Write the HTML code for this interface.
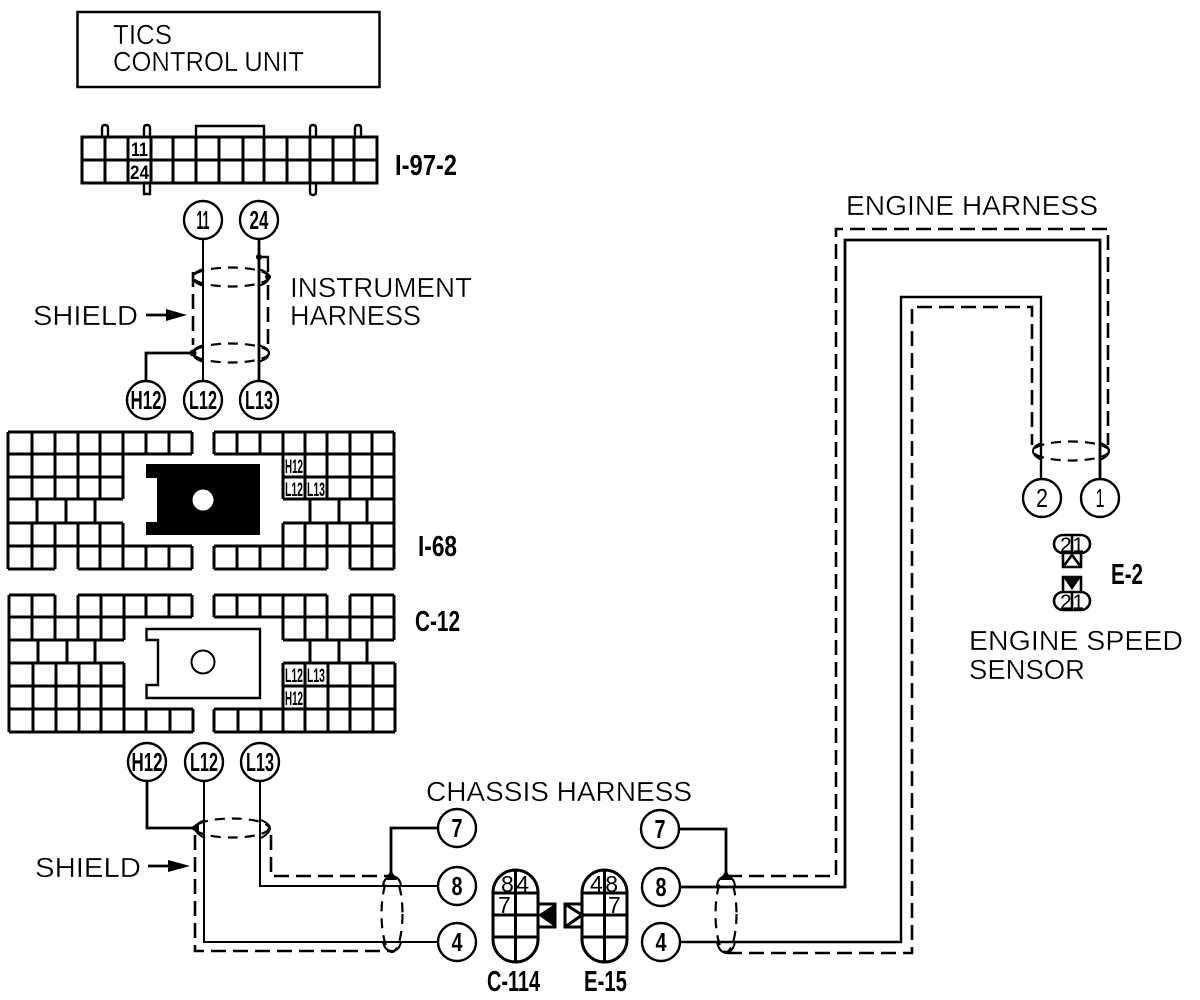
<!DOCTYPE html>
<html><head><meta charset="utf-8"><style>
html,body{margin:0;padding:0;background:#fff}
svg{display:block}
text{font-family:"Liberation Sans",sans-serif;fill:#000}
.t{font-size:28px;stroke:#fff;stroke-width:.35px}
.b{font-size:29px;font-weight:bold}
.n{font-size:26px;font-weight:bold;text-anchor:middle}
.c{font-size:19px;font-weight:bold}
.g{fill:none;stroke:#000;stroke-width:3}
.w{fill:none;stroke:#000;stroke-width:2}
.k{fill:none;stroke:#000;stroke-width:2.800}
.d{fill:none;stroke:#000;stroke-width:2.600;stroke-dasharray:15 7}
.e{fill:none;stroke:#000;stroke-width:2.200;stroke-dasharray:10 7}
.o{fill:#fff;stroke:#000;stroke-width:2.400}
</style></head><body>
<svg width="1200" height="1000" viewBox="0 0 1200 1000" xmlns="http://www.w3.org/2000/svg">
<rect width="1200" height="1000" fill="#fff"/>

<!-- Control unit -->
<rect x="77.500" y="12" width="302" height="75" class="g" style="stroke-width:2.500"/>
<text class="t" x="113" y="44" textLength="59" lengthAdjust="spacingAndGlyphs">TICS</text>
<text class="t" x="113" y="71" textLength="191" lengthAdjust="spacingAndGlyphs">CONTROL UNIT</text>

<!-- I-97-2 -->
<path class="g" style="stroke-width:2.400" d="M102 137V128Q102 125 105 125Q108 125 108 128V137M144 137V128Q144 125 147 125Q150 125 150 128V137M144 183V194H150V183M196 137V126H264V137M310 137V128Q310 125 313 125Q316 125 316 128V137M310 183V192Q310 195 313 195Q316 195 316 192V183M355 137V128Q355 125 358 125Q361 125 361 128V137"/>
<path class="g" d="M82 137H377V183H82ZM82 160H377M105 137V183M128 137V183M151 137V183M173 137V183M196 137V183M219 137V183M243 137V183M264 137V183M287 137V183M310 137V183M333 137V183M354 137V183"/>
<text class="c" x="131" y="156" textLength="17" lengthAdjust="spacingAndGlyphs">11</text>
<text class="c" x="130" y="179" textLength="19" lengthAdjust="spacingAndGlyphs">24</text>
<text class="b" x="395" y="175" textLength="62" lengthAdjust="spacingAndGlyphs">I-97-2</text>

<!-- Instrument harness wires -->
<path class="w" d="M203 239V381"/>
<path class="k" d="M259 239V381M193 353H146V381"/>
<path class="g" d="M259 257H268V272" style="stroke-width:2.400"/>
<path class="d" d="M193 272V345"/>
<path class="d" d="M268 285V345"/>
<ellipse cx="231" cy="277" rx="38" ry="9.500" class="e"/>
<ellipse cx="231" cy="353" rx="38" ry="9.500" class="e"/>
<path class="w" d="M204 269Q193 272 193 277Q193 283 204 286M258 269Q269 272 269 277Q269 283 258 286M204 345Q193 348 193 353Q193 359 204 362M258 345Q269 348 269 353Q269 359 258 362"/>
<circle cx="259" cy="257" r="3"/><circle cx="268" cy="277" r="3"/><circle cx="193" cy="353" r="3.500"/>
<circle cx="203" cy="220" r="19" class="o"/><circle cx="259" cy="220" r="19" class="o"/>
<circle cx="146" cy="400" r="19" class="o"/><circle cx="203" cy="400" r="19" class="o"/><circle cx="259" cy="400" r="19" class="o"/>
<text class="n" x="203" y="229" textLength="13" lengthAdjust="spacingAndGlyphs">11</text>
<text class="n" x="259" y="229" textLength="19" lengthAdjust="spacingAndGlyphs">24</text>
<text class="n" x="146" y="409" textLength="31" lengthAdjust="spacingAndGlyphs">H12</text>
<text class="n" x="203" y="409" textLength="28" lengthAdjust="spacingAndGlyphs">L12</text>
<text class="n" x="259" y="409" textLength="28" lengthAdjust="spacingAndGlyphs">L13</text>
<text class="t" x="33" y="325" textLength="105" lengthAdjust="spacingAndGlyphs">SHIELD</text>
<path d="M146 315H170" class="k"/><path d="M166 309L187 315L166 321Z"/>
<text class="t" x="290" y="297" textLength="182" lengthAdjust="spacingAndGlyphs">INSTRUMENT</text>
<text class="t" x="290" y="325" textLength="131" lengthAdjust="spacingAndGlyphs">HARNESS</text>

<!-- I-68 -->
<path class="g" d="M8 432H192M8 454H192M8 477H123M8 499H123M8 523H123M8 546H192M8 569H55M78 569H192
M8 432V569M32 432V499M55 432V499M78 432V499M100 432V499M123 432V499M146 432V454M169 432V454M192 432V454
M37 499V523M66 499V523M95 499V523
M32 523V569M55 523V569M78 523V569M100 523V569M123 523V569M146 546V569M169 546V569M192 546V569"/>
<path class="g" d="M214 432H394M214 454H394M283 477H394M283 499H394M283 523H394M214 546H394M214 569H327M350 569H394
M394 432V569M214 432V454M237 432V454M260 432V454M283 432V499M305 432V499M327 432V499M350 432V499M372 432V499
M310 499V523M339 499V523M367 499V523
M283 523V546M305 523V546M327 523V546M350 523V569M372 523V569
M214 546V569M237 546V569M260 546V569M283 546V569M305 546V569M327 546V569"/>
<text class="c" x="285" y="473" textLength="18" lengthAdjust="spacingAndGlyphs">H12</text>
<text class="c" x="285" y="496" textLength="18" lengthAdjust="spacingAndGlyphs">L12</text>
<text class="c" x="307" y="496" textLength="18" lengthAdjust="spacingAndGlyphs">L13</text>
<path d="M146 464H260V535H146V522H157V478H146Z"/>
<circle cx="203" cy="500" r="10.500" fill="#fff"/>
<text class="b" x="418" y="556" textLength="39" lengthAdjust="spacingAndGlyphs">I-68</text>

<!-- C-12 -->
<path class="g" d="M9 595H55M78 595H192M9 617H192M9 640H124M9 663H124M9 686H124M9 709H193M9 732H193
M9 595V732M32 595V640M55 595V640M78 595V640M101 595V640M124 595V640M146 595V617M169 595V617M192 595V617
M38 640V663M67 640V663M95 640V663
M33 663V732M56 663V732M79 663V732M101 663V732M124 663V732M146 709V732M170 709V732M193 709V732"/>
<path class="g" d="M214 595H327M350 595H394M214 617H394M283 640H394M283 663H395M283 686H395M214 709H395M214 732H395
M214 595V617M237 595V617M260 595V617M283 595V640M305 595V640M327 595V640M350 595V640M372 595V640M394 595V640
M310 640V663M339 640V663M367 640V663
M283 663V732M305 663V732M328 663V732M350 663V732M373 663V732M395 663V732
M214 709V732M238 709V732M261 709V732"/>
<text class="c" x="285" y="682" textLength="18" lengthAdjust="spacingAndGlyphs">L12</text>
<text class="c" x="307" y="682" textLength="18" lengthAdjust="spacingAndGlyphs">L13</text>
<text class="c" x="285" y="705" textLength="18" lengthAdjust="spacingAndGlyphs">H12</text>
<path class="g" style="stroke-width:2.400" d="M146.500 629H260V698H146.500V685H158V640H146.500Z"/>
<circle cx="203" cy="662" r="11.500" class="w"/>
<text class="b" x="415" y="631" textLength="45" lengthAdjust="spacingAndGlyphs">C-12</text>

<!-- Chassis harness -->
<path class="k" d="M147 781V828H193M438 828H391V876"/>
<path class="w" d="M204 781V942H437M260 781V886H437"/>
<path class="d" d="M195 835V951H391M271 835V876H391"/>
<ellipse cx="232" cy="828" rx="37" ry="9.500" class="e"/>
<ellipse cx="392" cy="914" rx="10.500" ry="38" class="e"/>
<path class="w" d="M205 820Q195 824 195 828Q195 833 205 838M261 820Q270 824 270 828Q270 833 261 838M383 886Q384 877 392 876Q400 877 401 886M383 942Q385 951 392 951Q399 951 401 942"/>
<path d="M190 828L199 822V834Z"/><path d="M385 880L391 870L397 880Z"/>
<circle cx="147" cy="762" r="19" class="o"/><circle cx="204" cy="762" r="19" class="o"/><circle cx="260" cy="762" r="19" class="o"/>
<text class="n" x="147" y="771" textLength="31" lengthAdjust="spacingAndGlyphs">H12</text>
<text class="n" x="204" y="771" textLength="28" lengthAdjust="spacingAndGlyphs">L12</text>
<text class="n" x="260" y="771" textLength="28" lengthAdjust="spacingAndGlyphs">L13</text>
<circle cx="457" cy="828" r="19" class="o"/><circle cx="457" cy="886" r="19" class="o"/><circle cx="457" cy="942" r="19" class="o"/>
<text class="n" x="457" y="837" textLength="11" lengthAdjust="spacingAndGlyphs">7</text><text class="n" x="457" y="895" textLength="11" lengthAdjust="spacingAndGlyphs">8</text><text class="n" x="457" y="951" textLength="11" lengthAdjust="spacingAndGlyphs">4</text>
<text class="t" x="35" y="877" textLength="106" lengthAdjust="spacingAndGlyphs">SHIELD</text>
<path d="M148 866H172" class="k"/><path d="M168 860L190 866L168 872Z"/>
<text class="t" x="426" y="801" textLength="266" lengthAdjust="spacingAndGlyphs">CHASSIS HARNESS</text>

<!-- C-114 / E-15 -->
<path class="g" d="M493 892.500A22.500 22.500 0 0 1 538 892.500V939.500A22.500 22.500 0 0 1 493 939.500ZM493 893H538M493 915H538M493 937H538M515.500 870V962"/>
<rect x="538" y="904" width="17" height="23" class="g"/><path d="M538 915L555 904V927Z"/>
<text x="501" y="892" font-size="23" textLength="28" lengthAdjust="spacing">84</text>
<text x="498" y="913" font-size="23">7</text>
<path class="g" d="M582 892.500A22.500 22.500 0 0 1 627 892.500V939.500A22.500 22.500 0 0 1 582 939.500ZM582 893H627M582 915H627M582 937H627M604.500 870V962"/>
<rect x="565" y="904" width="17" height="23" class="g"/><path class="g" d="M565 904L582 915L565 927"/>
<text x="590" y="892" font-size="23" textLength="28" lengthAdjust="spacing">48</text>
<text x="608" y="913" font-size="23">7</text>
<text class="b" x="487" y="991" textLength="53" lengthAdjust="spacingAndGlyphs">C-114</text>
<text class="b" x="584" y="991" textLength="43" lengthAdjust="spacingAndGlyphs">E-15</text>

<!-- Engine harness -->
<circle cx="660" cy="829" r="19" class="o"/><circle cx="661" cy="887" r="19" class="o"/><circle cx="661" cy="942" r="19" class="o"/>
<text class="n" x="660" y="838" textLength="11" lengthAdjust="spacingAndGlyphs">7</text><text class="n" x="661" y="896" textLength="11" lengthAdjust="spacingAndGlyphs">8</text><text class="n" x="661" y="951" textLength="11" lengthAdjust="spacingAndGlyphs">4</text>
<path class="k" d="M679 829H726V876"/>
<path class="k" d="M680 887H845V240H1100V480"/>
<path class="k" d="M680 942H901V297H1041V480" style="stroke-width:2.400"/>
<path class="d" d="M727 876H836V229H1108V445"/>
<path class="d" d="M727 953H912V307H1032V445"/>
<ellipse cx="726" cy="914" rx="10.500" ry="38" class="e"/>
<ellipse cx="1071" cy="451" rx="38" ry="9.500" class="e"/>
<path class="w" d="M717 886Q718 877 726 876Q734 877 735 886M717 942Q719 952 726 953Q733 952 735 942M1042 443Q1033 446 1033 451Q1033 456 1042 460M1100 443Q1109 446 1109 451Q1109 456 1100 460"/>
<path d="M720 880L726 870L732 880Z"/>
<circle cx="1042" cy="498" r="19" class="o"/><circle cx="1100" cy="498" r="19" class="o"/>
<text class="n" x="1042" y="507" style="font-weight:normal" textLength="12" lengthAdjust="spacingAndGlyphs">2</text>
<text class="n" x="1100" y="507" style="font-weight:normal" textLength="9" lengthAdjust="spacingAndGlyphs">1</text>
<text class="t" x="846" y="215" textLength="252" lengthAdjust="spacingAndGlyphs">ENGINE HARNESS</text>

<!-- E-2 -->
<path class="g" style="stroke-width:2.600" d="M1063 535H1081A9 9 0 0 1 1081 553H1063A9 9 0 0 1 1063 535ZM1072 535V553M1063 553V567H1081V553M1063 567L1072 555L1081 567"/>
<text x="1060" y="552" font-size="21" textLength="24" lengthAdjust="spacing">21</text>
<path class="g" style="stroke-width:2.600" d="M1063 592H1081A9 9 0 0 1 1081 610H1063A9 9 0 0 1 1063 592ZM1072 592V610M1063 592V577H1081V592"/>
<path d="M1063 577H1081L1072 590Z"/>
<text x="1060" y="609" font-size="21" textLength="24" lengthAdjust="spacing">21</text>
<text class="b" x="1111" y="584" textLength="32" lengthAdjust="spacingAndGlyphs">E-2</text>
<text class="t" x="969" y="650" textLength="214" lengthAdjust="spacingAndGlyphs">ENGINE SPEED</text>
<text class="t" x="969" y="679" textLength="116" lengthAdjust="spacingAndGlyphs">SENSOR</text>
</svg>
</body></html>
